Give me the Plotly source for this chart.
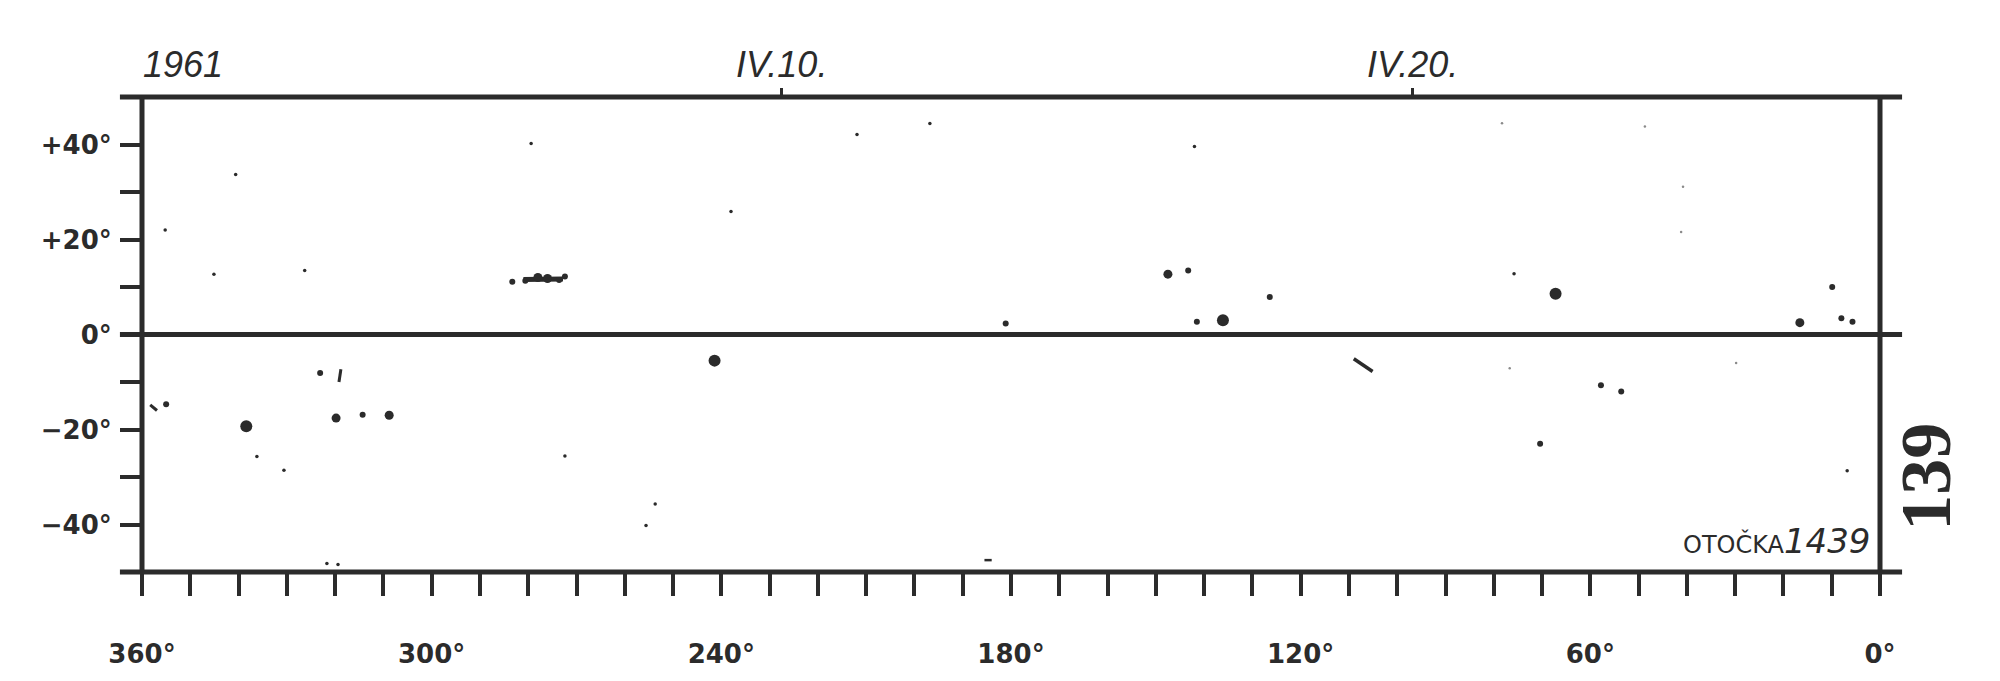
import plotly.graph_objects as go

INK = "#2b2b2b"

# ---- data (Carrington longitude, heliographic latitude) ----
BIG_LON = [338.4, 241.4, 136.1, 67.2]
BIG_LAT = [-19.3, -5.5, 3.0, 8.6]

MED_LON = [308.8, 319.8, 147.5, 16.6, 278.0, 276.0]
MED_LAT = [-17.0, -17.6, 12.7, 2.5, 12.0, 11.8]

SMALL_LON = [355.0, 314.3, 323.1, 283.3, 143.3, 141.5, 126.4, 181.1, 9.9, 8.0, 5.7,
             57.8, 53.6, 70.4, 280.6, 273.6, 272.4]
SMALL_LAT = [-14.7, -16.9, -8.1, 11.1, 13.5, 2.7, 7.9, 2.3, 10.0, 3.4, 2.7,
             -10.7, -12.0, -23.0, 11.3, 11.5, 12.2]

TINY_LON = [340.6, 330.6, 272.4, 253.7, 6.8, 336.2, 211.9, 238.0, 355.2, 345.1, 326.3,
            279.4, 196.8, 142.0, 75.8, 321.7, 319.4, 255.6]
TINY_LAT = [33.7, -28.6, -25.6, -35.7, -28.7, -25.7, 42.1, 25.9, 22.0, 12.7, 13.5,
            40.2, 44.4, 39.6, 12.8, -48.2, -48.4, -40.2]

FAINT_LON = [78.3, 48.7, 40.8, 41.2, 76.7, 29.8]
FAINT_LAT = [44.5, 43.8, 31.1, 21.6, -7.1, -6.0]

# scan specks lying outside the frame
SPECK_LON = [126.8, 126.8, -4.7, -18.2, -15.5, 344.1, 51.8, 22.0]
SPECK_LAT = [-56.1, -61.8, 31.3, -12.2, -20.7, 63.0, 54.4, 52.9]

STROKE_LON = [[358.3, 356.9], [318.8, 319.2], [109.0, 105.1], [185.5, 184.0], [281.0, 272.8]]
STROKE_LAT = [[-14.8, -16.0], [-7.3, -10.0], [-5.1, -7.8], [-47.5, -47.5], [11.6, 11.7]]
STROKE_W = [3, 3, 3.5, 2.5, 5]

X_TICKS = list(range(0, 361, 10))
X_LABELS = {360: "360°", 300: "300°", 240: "240°", 180: "180°", 120: "120°", 60: "60°", 0: "0°"}
Y_TICKS = list(range(-50, 51, 10))
Y_LABELS = {40: "+40°", 20: "+20°", 0: "0°", -20: "−20°", -40: "−40°"}

DATE_LON = [227.5, 96.8]
DATE_TEXT = ["IV.10.", "IV.20."]
YEAR_LON = 351.5
YEAR_TEXT = "1961"

fig = go.Figure()

for xs, ys, w in zip(STROKE_LON, STROKE_LAT, STROKE_W):
    fig.add_trace(go.Scatter(x=xs, y=ys, mode="lines", line=dict(color=INK, width=w),
                             showlegend=False, hoverinfo="skip"))

for xs, ys, sz, col in [(BIG_LON, BIG_LAT, 12, INK), (MED_LON, MED_LAT, 9, INK),
                        (SMALL_LON, SMALL_LAT, 6, INK), (TINY_LON, TINY_LAT, 3.5, INK),
                        (FAINT_LON, FAINT_LAT, 2.5, "#8a8a8a")]:
    fig.add_trace(go.Scatter(x=xs, y=ys, mode="markers",
                             marker=dict(size=sz, color=col, line=dict(width=0)),
                             showlegend=False, hoverinfo="skip"))

fig.add_trace(go.Scatter(x=SPECK_LON, y=SPECK_LAT, mode="markers", cliponaxis=False,
                         marker=dict(size=3, color="#555555", line=dict(width=0)),
                         showlegend=False, hoverinfo="skip"))

# dummy trace to carry the top date axis
fig.add_trace(go.Scatter(x=DATE_LON, y=[50, 50], xaxis="x2", mode="markers",
                         marker=dict(size=1, color="rgba(0,0,0,0)"),
                         showlegend=False, hoverinfo="skip"))

tickfont = dict(family="DejaVu Sans", size=26, weight="bold", color=INK)
datefont = dict(family="Liberation Sans", size=36, style="italic", color=INK)

fig.update_layout(
    width=2000, height=681,
    margin=dict(l=142, r=120, t=97, b=101),
    paper_bgcolor="white", plot_bgcolor="white",
    xaxis=dict(range=[360, 0], autorange=False, tickmode="array", tickvals=X_TICKS,
               ticktext=[X_LABELS.get(v, "") for v in X_TICKS],
               ticks="outside", ticklen=23, tickwidth=4, tickcolor=INK,
               showgrid=False, zeroline=False, showline=False,
               tickfont=tickfont, ticklabelstandoff=36),
    xaxis2=dict(range=[360, 0], autorange=False, overlaying="x", side="top",
                tickmode="array", tickvals=DATE_LON, ticktext=DATE_TEXT,
                ticks="outside", ticklen=8, tickwidth=3, tickcolor=INK,
                showgrid=False, zeroline=False, showline=False,
                tickfont=datefont, ticklabelstandoff=-3),
    yaxis=dict(range=[-50, 50], autorange=False, tickmode="array", tickvals=Y_TICKS,
               ticktext=[Y_LABELS.get(v, "") for v in Y_TICKS],
               ticks="outside", ticklen=21, tickwidth=4, tickcolor=INK,
               showgrid=False, zeroline=False, showline=False,
               tickfont=tickfont, ticklabelstandoff=3),
)

# frame (paper-referenced so it is not clipped): top/equator/bottom rules overhanging
# both sides, plus the two side borders
for yp in [1.0, 0.5, 0.0]:
    fig.add_shape(type="line", xref="paper", yref="paper", x0=-0.0127, x1=1.0127,
                  y0=yp, y1=yp, line=dict(color=INK, width=5))
for xp in [0.0, 1.0]:
    fig.add_shape(type="line", xref="paper", yref="paper", x0=xp, x1=xp, y0=0.0, y1=1.0,
                  line=dict(color=INK, width=5))

fig.add_annotation(x=YEAR_LON, xref="x", y=1.068, yref="paper", text=YEAR_TEXT,
                   showarrow=False, xanchor="center", yanchor="middle", font=datefont)

fig.add_annotation(x=0.9954, xref="paper", y=0.02, yref="paper",
                   text="OTOČKA<i><span style='font-size:34px'>1439</span></i>",
                   showarrow=False, xanchor="right", yanchor="bottom",
                   font=dict(family="DejaVu Sans", size=24, color=INK))

fig.add_annotation(x=1.0265, xref="paper", y=0.2008, yref="paper", text="139",
                   textangle=-90, showarrow=False, xanchor="center", yanchor="middle",
                   font=dict(family="Liberation Serif", size=72, weight="bold", color=INK))

PAGE_JS = (
    "var d=document.documentElement,b=document.body;"
    "d.style.margin='0';d.style.padding='0';d.style.overflow='hidden';d.style.height='681px';"
    "b.style.margin='0';b.style.padding='0';b.style.overflow='hidden';b.style.height='681px';"
    "var g=document.getElementById('{plot_id}');g.style.display='block';"
    "if(g.parentNode&&g.parentNode!==b){g.parentNode.style.height='681px';"
    "g.parentNode.style.lineHeight='0';}"
)

fig.write_html("out.html", config={"displayModeBar": False}, post_script=PAGE_JS)
